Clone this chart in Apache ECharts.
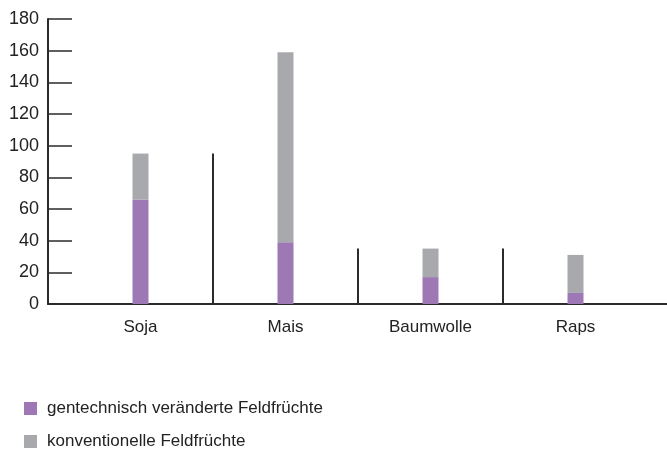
<!DOCTYPE html>
<html>
<head>
<meta charset="utf-8">
<script src="https://cdn.jsdelivr.net/npm/echarts@6/dist/echarts.min.js"></script>
<style>
    html, body { margin: 0; padding: 0; background: #fff; }
    #chart { width: 667px; height: 451px; }
</style>
</head>
<body>
<div id="chart"></div>
<script>
var categories = ['Soja', 'Mais', 'Baumwolle', 'Raps'];
var gentechnisch = [66, 39, 17, 7];     //gentechnisch veränderte Feldfrüchte
var konventionell = [29, 120, 18, 24];  //konventionelle Feldfrüchte
var trennlinien = [[1, 95], [2, 35], [3, 35]]; //Trennstriche: [Kategorie rechts davon, Höhe]
var yMin = 0, yMax = 180, yStep = 20;

var fontName = '"Liberation Sans", Arial, sans-serif';
var axisColor = '#2b2b2b';

var myChart = echarts.init(document.getElementById('chart'));

var option = {
    animation: false,
    legend: {
        orient: 'vertical',
        left: 24,
        top: 400,
        padding: 0,
        itemWidth: 13,
        itemHeight: 13,
        itemGap: 16,
        icon: 'rect',
        textStyle: {
            fontFamily: fontName,
            fontSize: 17,
            color: '#222',
            padding: [0, 0, 0, 5]
        },
        data: ['gentechnisch veränderte Feldfrüchte', 'konventionelle Feldfrüchte']
    },
    grid: [
        { left: 48, right: 0, top: 19, bottom: 147 },   //Achsenrahmen
        { left: 68, right: 19, top: 19, bottom: 147 }   //Balken
    ],
    xAxis: [
        {
            gridIndex: 0,
            type: 'value',
            min: 0,
            max: 1,
            axisLine: { show: true, lineStyle: { color: axisColor, width: 2 } },
            axisTick: { show: false },
            axisLabel: { show: false },
            splitLine: { show: false }
        },
        {
            gridIndex: 1,
            type: 'category',
            data: categories,
            axisLine: { show: false },
            axisTick: { show: false },
            axisLabel: {
                margin: 15,
                fontFamily: fontName,
                fontSize: 17,
                color: '#222'
            }
        }
    ],
    yAxis: [
        {
            gridIndex: 0,
            type: 'value',
            min: yMin,
            max: yMax,
            interval: yStep,
            axisLine: { show: true, lineStyle: { color: axisColor, width: 2 } },
            axisTick: { show: true, inside: true, length: 24, lineStyle: { color: axisColor, width: 1.5 } },
            axisLabel: {
                margin: 9,
                fontFamily: fontName,
                fontSize: 18,
                color: '#222'
            },
            splitLine: { show: false }
        },
        {
            gridIndex: 1,
            type: 'value',
            min: yMin,
            max: yMax,
            interval: yStep,
            show: false
        }
    ],
    series: [
        {
            name: 'gentechnisch veränderte Feldfrüchte',
            type: 'bar',
            stack: 'gesamt',
            xAxisIndex: 1,
            yAxisIndex: 1,
            barWidth: 16,
            itemStyle: { color: '#9e78b4' },
            data: gentechnisch
        },
        {
            name: 'konventionelle Feldfrüchte',
            type: 'bar',
            stack: 'gesamt',
            xAxisIndex: 1,
            yAxisIndex: 1,
            barWidth: 16,
            itemStyle: { color: '#a8a9ac' },
            data: konventionell
        },
        {
            name: 'trenner',
            type: 'custom',
            xAxisIndex: 1,
            yAxisIndex: 1,
            silent: true,
            renderItem: function (params, api) {
                var top = api.coord([api.value(0), api.value(1)]);
                var bottom = api.coord([api.value(0), 0]);
                var band = api.size([1, 0])[0];
                var x = top[0] - band / 2;
                return {
                    type: 'line',
                    shape: { x1: x, y1: top[1], x2: x, y2: bottom[1] },
                    style: { stroke: axisColor, lineWidth: 2 }
                };
            },
            data: trennlinien
        }
    ]
};

myChart.setOption(option);
</script>
</body>
</html>
